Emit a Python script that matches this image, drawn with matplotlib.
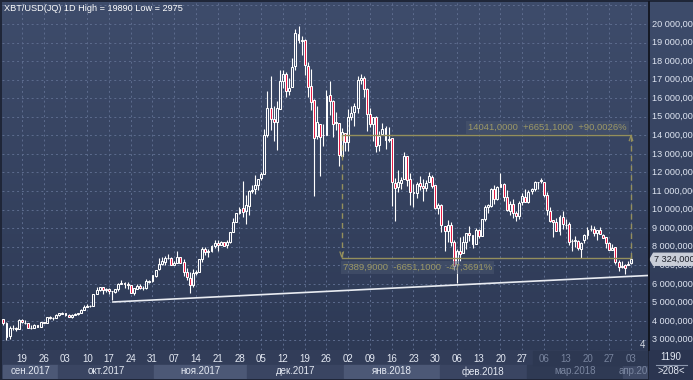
import matplotlib
matplotlib.use('Agg')
import matplotlib.pyplot as plt
import numpy as np
import pandas as pd

# ---------------- data ----------------
start_date = '2017-09-13'
opens = [4132,3875,3166,3638,3606,3591,4074,3916,3901,3628,3630,3796,3682,3928,3892,4197,4172,4166,
         4341,4396,4408,4319,4230,4324,4369,4430,4615,4776,4789,4830,5464,5644,5836,5688,5742,5604,5584,5708,5997,6037,6006,5936,5525,5748,5900,5788,5754,6115,6132,
         6441,6778,7088,7164,7405,7403,7023,7141,7447,7174,6619,6295,5938,6561,6635,7323,7854,7697,7766,8039,8206,8078,8232,8074,8242,8789,9353,9823,10077,9907,
         10199,10978,11083,11315,11686,11923,14000,15500,14900,14700,15427,16920,17300,16385,16601,17760,19476,19106,19118,17760,16642,15898,13949,14608,13996,14037,16164,15864,14696,14682,12898,
         14112,13625,14978,15271,15477,17000,17100,16476,15124,14589,14968,13454,14052,14371,13767,13836,11431,11199,11430,11656,12889,11633,10945,10903,11422,11256,11175,11475,11756,11307,10108,
         10237,9142,8852,9176,8271,7052,7755,7638,8272,8720,8616,8141,8927,8600,9488,10136,10208,11123,10553,11232,11372,10660,9937,10288,9796,9669,10394,10687,
         10385,10977,11102,11497,11532,11500,10804,9951,9415,9351,8853,9603,9173,9215,8291,8323,8322,7891,8344,8620,8937,8939,8736,8902,8613,8498,8201,7837,7979,7171,6892,
         7003,7023,7102]
highs = [4132,3921,3733,3809,3665,4079,4094,4031,3916,3758,3819,3796,3950,3970,4210,4279,4215,4358,
         4404,4470,4432,4352,4363,4413,4444,4624,4879,4922,4874,5447,5840,5838,5852,5776,5800,5604,5744,6060,6195,6076,6076,5936,5754,5977,5988,5877,6256,6215,6470,
         6767,7367,7461,7493,7617,7446,7253,7777,7447,7312,6873,6625,6811,6765,7342,7967,8005,7885,8102,8337,8349,8302,8267,8374,8791,9523,9818,10126,11517,10801,
         11047,11320,11859,11657,12032,14369,16400,17200,15600,15851,17514,17500,17400,17086,18154,19717,19890,19371,19178,17935,17568,15943,15603,14626,14593,16461,16931,15888,15279,14682,14377,
         14112,15445,15573,15740,17200,17300,17200,16538,15498,14973,15019,14230,14660,14512,14446,13843,11678,12107,11780,13103,12896,11966,11378,11501,11786,11657,11615,12040,11876,11307,10382,
         10289,9142,9431,9335,8365,7851,8509,8559,8737,9123,8616,8986,8958,9519,10235,10324,11140,11350,11274,11959,11419,11039,10487,10597,9923,10475,10879,11090,
         11052,11189,11528,11513,11704,11500,10930,10147,9466,9531,9712,9938,9470,9356,8428,8585,8347,8246,8676,9051,9177,9101,8880,9053,8682,8530,8233,8123,7994,7277,7208,
         7061,7255,7531]
lows = [3790,2975,3050,3488,3446,3591,3869,3858,3614,3554,3595,3667,3682,3870,3885,4110,4055,4161,
        4270,4377,4259,4210,4164,4321,4321,4406,4564,4765,4752,4822,5437,5592,5479,5544,5473,5110,5531,5627,5965,5792,5732,5504,5398,5721,5729,5689,5725,6041,6103,
        6378,6759,7003,7031,7333,7007,7023,7114,7102,6437,6204,5519,5844,6462,6635,7177,7561,7463,7694,7949,7763,8075,8039,7941,8191,8776,9353,9736,9601,9202,
        9695,10905,10862,11082,11605,11923,13900,14300,13675,13227,15405,16572,16040,16186,16601,17515,18974,18356,17275,16078,15343,10750,13829,11800,13449,14029,15114,13937,14307,12350,12756,
        13155,13164,14845,14522,15203,16765,16088,14208,14424,13691,13106,13158,14052,13268,13642,10195,9402,10943,11128,11656,11288,10240,10130,10640,11057,10470,10989,11475,11179,10036,9777,
        8812,7796,8252,8031,6757,6048,7237,7638,7885,8295,7931,8141,8455,8600,9396,9825,10149,10326,10513,11232,10479,9939,9735,9547,9407,9502,10246,10393,
        10353,10850,11002,11136,11444,10694,9692,9336,8513,8828,8607,8956,8958,8069,7783,8005,7813,7398,8182,8390,8846,8565,8361,8666,8449,7921,7797,7809,7081,6684,6864,
        6527,7011,7072]
closes = [3883,3155,3638,3625,3583,4065,3925,3906,3631,3631,3792,3683,3926,3893,4201,4175,4163,4339,
          4404,4409,4317,4229,4328,4371,4427,4610,4772,4782,4826,5447,5647,5832,5678,5726,5606,5591,5709,6011,6032,6008,5930,5527,5751,5905,5781,5753,6154,6131,6468,
          6767,7079,7208,7380,7407,7023,7144,7460,7144,6618,6358,5950,6559,6636,7316,7872,7709,7790,8036,8201,8071,8254,8039,8254,8791,9331,9818,10059,9889,10234,
          10976,11075,11323,11657,11917,14000,15500,14900,14700,15455,16937,17300,16408,16564,17707,19497,19141,19114,17777,16625,15803,13832,14699,13926,14027,16100,15839,14607,14656,12952,14156,
          13657,14982,15201,15599,17000,17100,16478,15170,14595,14973,13406,13981,14360,13772,13820,11491,11189,11475,11607,12899,11600,10931,10868,11359,11259,11171,11441,11786,11296,10106,10221,
          9171,8831,9175,8277,6955,7754,7621,8266,8737,8622,8130,8927,8598,9495,10166,10234,11113,10552,11225,11404,10690,10005,10301,9813,9665,10367,10726,10398,
          10951,11086,11490,11513,11573,10780,9966,9395,9338,8866,9579,9205,9195,8270,8301,8338,7917,8224,8631,8913,8929,8728,8880,8668,8496,8209,7833,7954,7166,6891,6974,
          6844,7084,7324]

date_tick_labels = ['19','26','03','10','17','24','31','07','14','21','28','05','12','19','26',
                    '02','09','16','23','30','06','13','20','27','06','13','20','27','03']
month_labels = ['сен.2017','окт.2017','ноя.2017','дек.2017','янв.2018','фев.2018','мар.2018','апр.2018']
price_ticks = [3000,4000,5000,6000,7000,8000,9000,10000,11000,12000,13000,14000,15000,16000,17000,18000,19000,20000]
measure_high = 14041.0
measure_low = 7389.9
last_price = 7324
trend_start = ('2017-10-18', 5020)
trend_end_value = 6450
# --------------------------------------

W, H = 693, 380
ref = pd.Timestamp('2017-09-19')
dates = pd.date_range(start_date, periods=len(closes), freq='D')
xs = np.array([(d - ref).days for d in dates], dtype=float)
o = np.array(opens, float); h = np.array(highs, float)
l = np.array(lows, float); c = np.array(closes, float)

PXD = 3.107          # pixels per day
X0 = 22.0            # pixel of 2017-09-19
def px2day(p):
    return (p - X0) / PXD
PXV = 0.01856        # pixels per price unit
def py2val(p):
    return 20000 - (p - 24) / PXV

def fig_rect(x0, y0, x1, y1):
    return [x0 / W, 1 - y1 / H, (x1 - x0) / W, (y1 - y0) / H]

plt.rcParams['font.family'] = ['Liberation Sans', 'DejaVu Sans']
fig = plt.figure(figsize=(W / 100, H / 100), dpi=100)
fig.patch.set_facecolor('#1f2638')

XL = (px2day(2), px2day(648))
YL = (py2val(350), py2val(2))

ax = fig.add_axes(fig_rect(2, 2, 648, 350))
ax.set_xlim(*XL); ax.set_ylim(*YL)
ax.axis('off')
top_c = np.array([62, 76, 107]) / 255
bot_c = np.array([46, 58, 86]) / 255
grad = np.linspace(0, 1, 256)[:, None, None]
img = top_c * (1 - grad) + bot_c * grad
ax.imshow(img, extent=[XL[0], XL[1], YL[0], YL[1]], aspect='auto', zorder=0, origin='upper')

# grid
grid_c = '#5d6c8e'
week_days = []
d = pd.Timestamp('2017-09-19')
for i in range(len(date_tick_labels)):
    week_days.append((d - ref).days); d += pd.Timedelta(days=7)
week_days = np.array(week_days)
for wd in week_days:
    ax.axvline(wd, color=grid_c, lw=0.7, ls=(0, (2, 3)), zorder=1)
for pt in price_ticks + [21000]:
    ax.axhline(pt, color=grid_c, lw=0.7, ls=(0, (2, 3)), zorder=1)

# trend line
ts = (pd.Timestamp(trend_start[0]) - ref).days
ax.plot([ts, XL[1]], [trend_start[1], trend_end_value], color='#e9ecf2', lw=1.2, zorder=2, solid_capstyle='butt')

# candles
up = c >= o
body_lo = np.minimum(o, c); body_hi = np.maximum(o, c)
ax.vlines(xs, body_hi, h, color='white', lw=0.8, zorder=3)
ax.vlines(xs, l, body_lo, color='white', lw=0.8, zorder=3)
fc = ['none' if u else '#e5143f' for u in up]
ax.bar(xs, np.maximum(body_hi - body_lo, 1), bottom=body_lo, width=0.62, color=fc,
       edgecolor='white', linewidth=0.75, zorder=4)

# measurement tool
mc = '#948f5c'
xl_m = px2day(341.7); xr_m = px2day(631)
ax.plot([xl_m, xr_m], [measure_high, measure_high], color=mc, lw=1.0, zorder=5)
ax.plot([xl_m, xr_m], [measure_low, measure_low], color=mc, lw=1.0, zorder=5)
ax.plot([xl_m, xl_m], [measure_high, measure_low], color=mc, lw=1.0, ls=(0, (4, 3)), zorder=5)
ax.plot([xr_m, xr_m], [measure_low, measure_high], color=mc, lw=1.0, ls=(0, (4, 3)), zorder=5)
dxp = 1.7 / PXD; dyp = 6 / PXV
ax.plot([xl_m - dxp, xl_m, xl_m + dxp], [measure_low + dyp, measure_low + 1 / PXV, measure_low + dyp], color=mc, lw=0.9, zorder=5)
ax.plot([xr_m - dxp, xr_m, xr_m + dxp], [measure_high - dyp, measure_high - 1 / PXV, measure_high - dyp], color=mc, lw=0.9, zorder=5)
diff = measure_high - measure_low
def ru(v, nd=4):
    return f'{v:.{nd}f}'.replace('.', ',')
txt_hi = f'{ru(measure_high)}  +{ru(diff)}  +{ru(diff / measure_low * 100)}%'
txt_lo = f'{ru(measure_low)}  -{ru(diff)}  -{ru(diff / measure_high * 100)}%'
ax.text(px2day(468), py2val(127.5), txt_hi, color='#9c9866', fontsize=6.8, va='center', ha='left', zorder=6,
        bbox=dict(facecolor='#4a566f', edgecolor='none', alpha=0.55, pad=1.5))
ax.text(px2day(343), py2val(267.5), txt_lo, color='#9c9866', fontsize=6.8, va='center', ha='left', zorder=6,
        bbox=dict(facecolor='#4a566f', edgecolor='none', alpha=0.55, pad=1.5))

# header + misc
ax.text(px2day(4), py2val(8.5), 'XBT/USD(JQ) 1D High = 19890 Low = 2975', color='white', fontsize=6.6,
        va='center', ha='left', zorder=6)
ax.text(px2day(642), py2val(345.5), '4', color='#d5dae4', fontsize=7, va='center', ha='center', zorder=6)

# ---- price axis ----
axp = fig.add_axes(fig_rect(649, 2, 693, 350))
axp.set_xlim(649, 693); axp.set_ylim(*YL); axp.axis('off')
axp.imshow(img, extent=[649, 693, YL[0], YL[1]], aspect='auto', zorder=0, origin='upper')
for pt in price_ticks:
    lab = f'{pt:,}'.replace(',', ' ') + ',000'
    axp.text(652, pt, lab, color='#dfe5f2', fontsize=6.6, va='center', ha='left', zorder=2, clip_on=True)
# last price tag
tag_y0 = last_price - 6 / PXV; tag_y1 = last_price + 6 / PXV
axp.fill([650, 653.5, 693, 693, 653.5], [last_price, tag_y1, tag_y1, tag_y0, tag_y0], color='#c9ced8', zorder=3)
axp.text(654, last_price, f'{last_price:,}'.replace(',', ' ') + ',000', color='#1b1f29', fontsize=6.6,
         va='center', ha='left', zorder=4, clip_on=True)
fig.add_artist(plt.Line2D([648.6 / W, 648.6 / W], [1 - 350 / H, 1 - 2 / H], color='#0d1018', lw=1.2))

# ---- date axis ----
axd = fig.add_axes(fig_rect(2, 350, 648, 379))
axd.set_xlim(*XL); axd.set_ylim(379, 350); axd.axis('off')
axd.add_patch(plt.Rectangle((XL[0], 350), XL[1] - XL[0], 29, color='#323d59', zorder=0))
month_starts = ['2017-09-01', '2017-10-01', '2017-11-01', '2017-12-01', '2018-01-01', '2018-02-01',
                '2018-03-01', '2018-04-01', '2018-05-01']
ms = [(pd.Timestamp(m) - ref).days - 0.5 for m in month_starts]
band_cols = ['#4c5876', '#3a4562', '#4c5876', '#3a4562', '#4c5876', '#3a4562', '#2f3a54', '#3f4a66']
for i, lab in enumerate(month_labels):
    a = max(ms[i], XL[0] + 1 / PXD); b = min(ms[i + 1], XL[1])
    axd.add_patch(plt.Rectangle((a, 365), b - a, 12.5, color=band_cols[i], zorder=1))
    dim = i >= 6
    if i == 7:
        axd.text(px2day(619), 371.3, lab, color='#7a86a0', fontsize=7, ha='left', va='center', zorder=2, clip_on=True)
    else:
        axd.text((a + b) / 2, 371.3, lab, color='#7a86a0' if dim else '#e4e9f3', fontsize=7,
                 ha='center', va='center', zorder=2)
axd.add_patch(plt.Rectangle((px2day(533), 351), px2day(648) - px2day(533), 14, color='#2d3852', zorder=1))
for wd, lab in zip(week_days, date_tick_labels):
    dim = wd >= (pd.Timestamp('2018-03-01') - ref).days
    axd.text(wd, 358.8, lab, color='#77839d' if dim else '#e4e9f3', fontsize=7, ha='center', va='center', zorder=2)

# ---- corner box (pixel coordinates of the figure) ----
axc = fig.add_axes(fig_rect(649, 350, 693, 380))
axc.set_xlim(649, 693); axc.set_ylim(380, 350); axc.set_autoscale_on(False); axc.axis('off')
axc.add_patch(plt.Rectangle((649, 350), 44, 29, color='#2b3550', zorder=0))
axc.text(671, 357.5, '1190', color='#e4e9f3', fontsize=7, ha='center', va='center')
axc.plot([656, 687], [364.5, 364.5], color='#8d98ae', lw=0.8)
axc.text(671, 371.5, '>208<', color='#e4e9f3', fontsize=7, ha='center', va='center')

fig.savefig('out.png', dpi=100, facecolor=fig.get_facecolor())
